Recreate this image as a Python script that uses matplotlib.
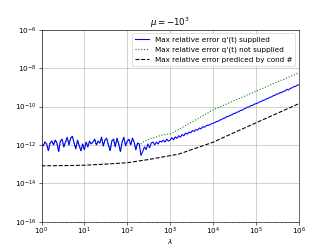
import numpy as np
from matplotlib import pyplot as plt

# log10 of max relative error, sampled on lambda = 10**(0, 0.04, ..., 6)
err_supplied = [
    -11.95, -12.05, -11.85, -11.95, -12.30, -11.90, -11.80, -12.00, -11.75, -11.90,
    -12.35, -11.80, -11.70, -12.10, -11.85, -11.60, -12.00, -11.65, -11.55, -11.90,
    -12.20, -11.75, -12.05, -12.30, -11.95, -12.25, -11.85, -12.10, -11.80, -11.95,
    -11.85, -11.70, -12.00, -11.80, -11.90, -11.60, -12.05, -11.75, -11.65, -12.00,
    -12.30, -11.80, -11.70, -12.10, -11.65, -11.95, -12.35, -11.85, -11.60, -12.05,
    -11.80, -11.70, -12.00, -11.65, -11.85, -12.25, -11.90, -11.95,
    -12.55, -12.35, -12.10, -12.25, -11.95, -12.15, -11.90, -11.85, -12.00, -11.85,
    -11.95, -11.80, -11.85, -11.75, -11.85, -11.70, -11.80, -11.75,
    -11.62, -11.74, -11.58, -11.66, -11.52, -11.60, -11.45, -11.53, -11.38, -11.44,
    -11.33, -11.37, -11.25, -11.30, -11.20, -11.23, -11.12, -11.16, -11.05, -11.08,
    -11.00, -10.97, -10.96, -10.90, -10.87,
    -10.84, -10.78, -10.77, -10.70, -10.68, -10.61, -10.60, -10.52, -10.51, -10.45,
    -10.44, -10.36, -10.35, -10.29, -10.27, -10.20, -10.19, -10.12, -10.10, -10.03,
    -10.02, -9.95, -9.94, -9.88, -9.85,
    -9.82, -9.76, -9.74, -9.68, -9.66, -9.60, -9.58, -9.52, -9.50, -9.44,
    -9.42, -9.35, -9.34, -9.28, -9.27, -9.20, -9.19, -9.10, -9.14, -9.05,
    -9.03, -8.96, -8.95, -8.89, -8.86,
]

# not supplied: same as supplied for small lambda, then its own curve
err_not_supplied = err_supplied[:58] + [
    -11.95, -11.85, -11.80, -11.78, -11.72, -11.70, -11.66, -11.64, -11.60, -11.58,
    -11.55, -11.52, -11.50, -11.48, -11.46, -11.44, -11.43, -11.42,
    -11.38, -11.33, -11.29, -11.24, -11.19, -11.14, -11.09, -11.04, -10.99, -10.94,
    -10.89, -10.84, -10.79, -10.74, -10.69, -10.64, -10.59, -10.54, -10.49, -10.43,
    -10.38, -10.33, -10.27, -10.22, -10.17,
    -10.13, -10.09, -10.06, -10.02, -9.98, -9.94, -9.90, -9.86, -9.82, -9.78,
    -9.74, -9.70, -9.66, -9.63, -9.59, -9.55, -9.51, -9.47, -9.43, -9.39,
    -9.35, -9.32, -9.28, -9.24, -9.20,
    -9.16, -9.12, -9.08, -9.05, -9.01, -8.97, -8.93, -8.89, -8.85, -8.81,
    -8.78, -8.74, -8.70, -8.66, -8.62, -8.59, -8.55, -8.51, -8.47, -8.43,
    -8.39, -8.36, -8.32, -8.28, -8.24,
]

# predicted by condition number
cond_lam_exp = [0, 0.5, 1, 1.5, 2, 2.5, 3, 3.2, 3.6, 4, 4.5, 5, 5.5, 6]
cond_err = [-13.09, -13.08, -13.06, -13.00, -12.93, -12.76, -12.56, -12.48,
            -12.17, -11.86, -11.35, -10.85, -10.35, -9.85]

lam = np.logspace(0, 6, len(err_supplied))

fig, ax = plt.subplots(figsize=(6.4, 4.8), dpi=51.875)
# blue drawn on top of the green dotted curve
ax.loglog(lam, 10.0 ** np.array(err_supplied), 'b-', zorder=3,
          label="Max relative error q'(t) supplied")
ax.loglog(lam, 10.0 ** np.array(err_not_supplied), 'g:', zorder=2,
          label="Max relative error q'(t) not supplied")
ax.loglog(10.0 ** np.array(cond_lam_exp), 10.0 ** np.array(cond_err), 'k--',
          zorder=2, label="Max relative error prediced by cond #")

ax.set_xlim(1, 1e6)
ax.set_ylim(1e-16, 1e-6)
ax.grid(True)
ax.tick_params(axis='x', pad=2.5)
ax.set_xlabel(r'$\lambda$', labelpad=0)
ax.set_title(r'$\mu = -10^3$')
ax.legend(loc='upper right')

fig.savefig('out.png')
